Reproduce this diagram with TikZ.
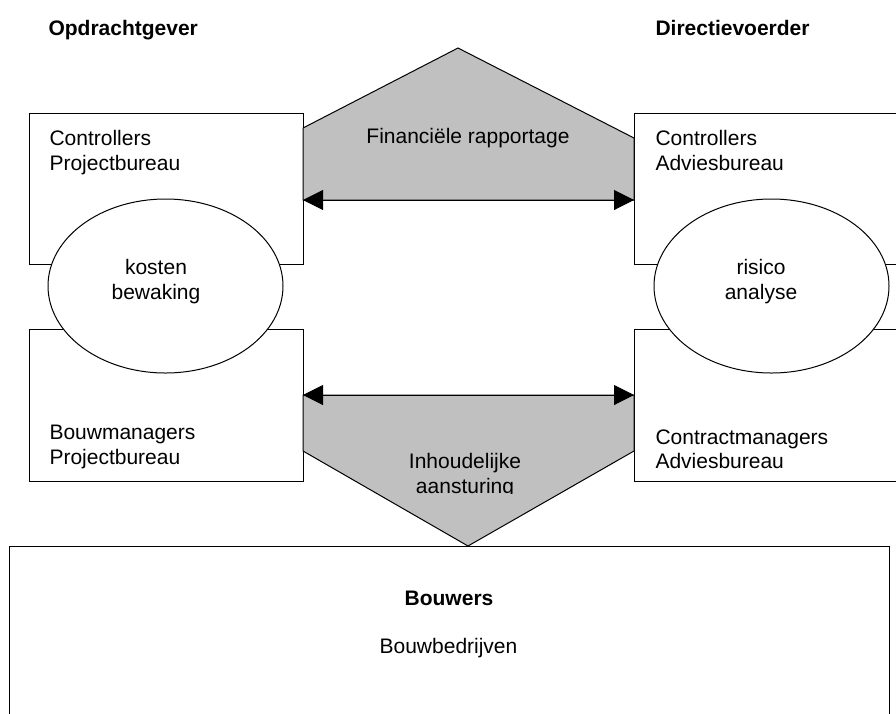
\documentclass[tikz,border=0pt]{standalone}
\usepackage{fontspec}
\setmainfont{Liberation Sans}
\usetikzlibrary{arrows.meta,shapes.geometric}
\definecolor{graybox}{RGB}{192,192,192}
\begin{document}
\begin{tikzpicture}[x=1pt,y=-1pt,line width=1pt,
  box/.style={draw=black,fill=white,rectangle,inner sep=0pt,outer sep=0pt},
  bubble/.style={draw=black,fill=white,ellipse,inner sep=0pt,outer sep=0pt,minimum width=235pt,minimum height=174pt},
  band/.style={draw=black,fill=graybox,line join=miter},
  txt/.style={inner sep=0pt,font=\fontsize{21}{24.5}\selectfont},
  head/.style={inner sep=0pt,font=\fontsize{21}{24.5}\selectfont\bfseries},
  dbl/.style={{Triangle[length=20pt,width=20pt]}-{Triangle[length=20pt,width=20pt]}}]
\useasboundingbox (0,0) rectangle (896,713);
\clip (0,0) rectangle (896,713);

% boxes
\node[box,minimum width=274pt,minimum height=151pt] (cpb) at (166,188.5) {};
\node[box,minimum width=274pt,minimum height=152pt] (bpb) at (166,405) {};
\node[box,minimum width=276pt,minimum height=151pt] (cab) at (772,188.5) {};
\node[box,minimum width=276pt,minimum height=152pt] (mab) at (772,405) {};
\node[box,minimum width=880pt,minimum height=194pt] (bouw) at (449,643) {};

% ellipses
\node[bubble] (kb) at (165.5,286) {};
\node[bubble] (ra) at (771.5,286) {};

% grey bands
\draw[band] (303,200) -- (303,128) -- (458,48) -- (634,138) -- (634,200) -- cycle;
\draw[band] (303,395) -- (634,395) -- (634,451) -- (468,546) -- (303,451) -- cycle;

% arrows
\coordinate (f1) at (303,200);
\coordinate (f2) at (634,200);
\coordinate (i1) at (303,395);
\coordinate (i2) at (634,395);
\draw[dbl] (f1) -- (f2);
\draw[dbl] (i1) -- (i2);

% texts
\node[head,anchor=base west] (og) at (48,35) {Opdrachtgever};
\node[head,anchor=base west] (dv) at (655,35) {Directievoerder};

\node[txt,align=left,anchor=north west] (t1) at (49,130) {Controllers\\Projectbureau};
\node[txt,align=left,anchor=north west] (t2) at (49,425) {Bouwmanagers\\Projectbureau};
\node[txt,align=left,anchor=north west] (t3) at (655,130) {Controllers\\Adviesbureau};
\node[txt,align=left,anchor=north west] (t4) at (655,429) {Contractmanagers\\Adviesbureau};

\node[txt,align=center,anchor=north] (t5) at (156,259) {kosten\\bewaking};
\node[txt,align=center,anchor=north] (t6) at (761,259) {risico\\analyse};

\node[txt,anchor=base] (t7) at (468,143) {Financiële rapportage};
\begin{scope}
\clip (300,440) rectangle (640,493);
\node[txt,align=center,anchor=north] (t8) at (465,453) {Inhoudelijke\\aansturing};
\end{scope}

\node[head,anchor=base] (t9) at (449,605) {Bouwers};
\node[txt,anchor=base] (t10) at (448.5,653) {Bouwbedrijven};
\end{tikzpicture}
\end{document}
